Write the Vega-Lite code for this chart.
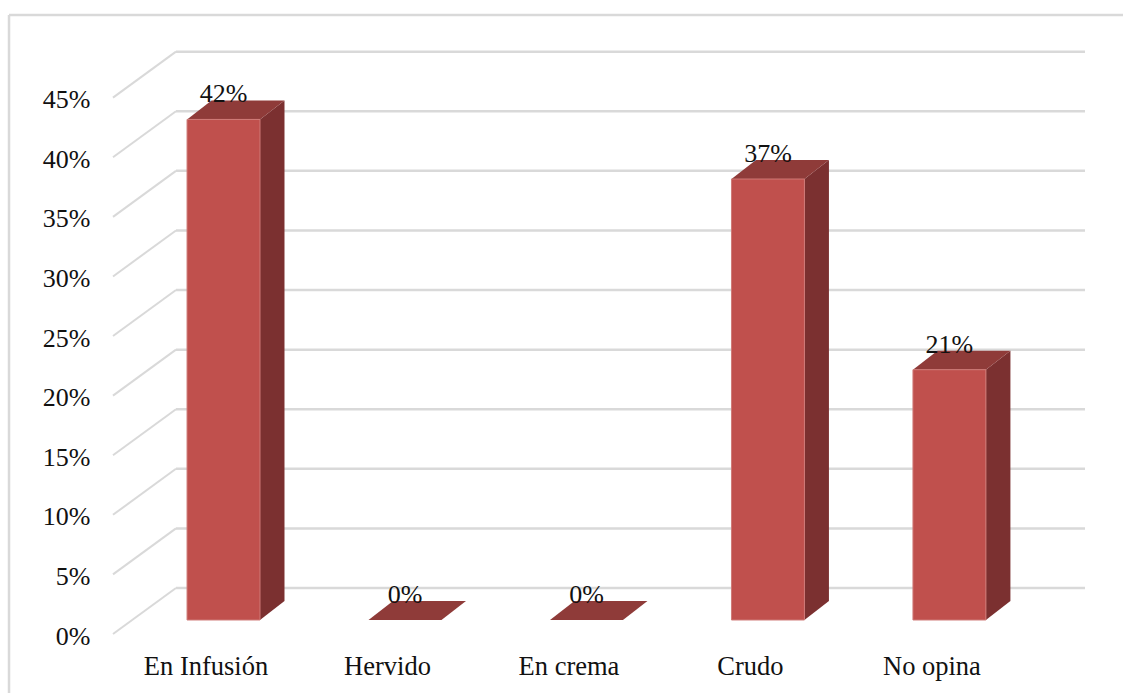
{
"$schema":"https://vega.github.io/schema/vega-lite/v6.json",
"width":972,"height":584,
"autosize":{"type":"none"},
"padding":{"left":113,"top":50,"right":38,"bottom":59},
"background":"white",
"config":{"view":{"stroke":null},"font":"Liberation Serif"},
"datasets":{
"niveles":[{"nivel":0},{"nivel":5},{"nivel":10},{"nivel":15},{"nivel":20},{"nivel":25},{"nivel":30},{"nivel":35},{"nivel":40},{"nivel":45}],
"usos":[{"uso":"En Infusión","porcentaje":42},{"uso":"Hervido","porcentaje":0},{"uso":"En crema","porcentaje":0},{"uso":"Crudo","porcentaje":37},{"uso":"No opina","porcentaje":21}]
},
"data":{"name":"usos"},
"transform":[
{"window":[{"op":"row_number","as":"n"}]},
{"calculate":"datum.n-1","as":"i"},
{"calculate":"datum.i-0.201","as":"xl"},
{"calculate":"datum.i+0.201","as":"xr"},
{"calculate":"datum.porcentaje+1.175","as":"arriba"},
{"calculate":"1.175","as":"base"},
{"calculate":"datum.porcentaje+'%'","as":"etiqueta"}
],
"layer":[
{"data":{"values":[{"marco":"superior"}]},
"mark":{"type":"rule","color":"#d9d9d9","strokeWidth":2.5},
"encoding":{
"x":{"datum":-1.182,"type":"quantitative","scale":{"domain":[-0.609,4.747],"nice":false,"zero":false},
"axis":{"title":null,"values":[0,1,2,3,4],"labelExpr":"['En Infusión','Hervido','En crema','Crudo','No opina'][datum.value]","domain":false,"ticks":false,"grid":false,"labelFont":"Liberation Serif","labelFontSize":26.5,"labelColor":"#111111","labelPadding":19,"labelOffset":-18,"labelOverlap":false,"labelFlush":false}},
"x2":{"datum":4.96},
"y":{"datum":51.94,"type":"quantitative","scale":{"domain":[0,49],"nice":false,"zero":false},
"axis":{"title":null,"values":[0,5,10,15,20,25,30,35,40,45],"labelExpr":"datum.value+'%'","domain":false,"ticks":false,"grid":false,"labelFont":"Liberation Serif","labelFontSize":26,"labelColor":"#111111","labelPadding":23,"labelOffset":2,"labelOverlap":false,"labelFlush":false}}}},
{"data":{"values":[{"marco":"izquierdo"}]},
"mark":{"type":"rule","color":"#d9d9d9","strokeWidth":2.5},
"encoding":{
"x":{"datum":-1.182,"type":"quantitative"},
"y":{"datum":51.94,"type":"quantitative"},
"y2":{"datum":-4.95}}},
{"data":{"name":"niveles"},
"transform":[{"calculate":"datum.nivel+3.86","as":"fondo"},{"calculate":"-0.609","as":"x0"},{"calculate":"-0.262","as":"x1"}],
"mark":{"type":"rule","color":"#d9d9d9","strokeWidth":2},
"encoding":{
"x":{"field":"x0","type":"quantitative"},
"x2":{"field":"x1"},
"y":{"field":"nivel","type":"quantitative"},
"y2":{"field":"fondo"}}},
{"data":{"name":"niveles"},
"transform":[{"calculate":"datum.nivel+3.86","as":"fondo"},{"calculate":"-0.262","as":"x1"},{"calculate":"4.747","as":"x2"}],
"mark":{"type":"rule","color":"#d9d9d9","strokeWidth":2.5},
"encoding":{
"x":{"field":"x1","type":"quantitative"},
"x2":{"field":"x2"},
"y":{"field":"fondo","type":"quantitative"}}},
{"transform":[{"calculate":"[0,1]","as":"t"},{"flatten":["t"]},
{"calculate":"datum.xr+0.135*datum.t","as":"sx"},
{"calculate":"datum.arriba+1.594*datum.t","as":"sy"},
{"calculate":"datum.base+1.594*datum.t","as":"sy2"}],
"mark":{"type":"area","orient":"vertical","color":"#7b3030"},
"encoding":{
"x":{"field":"sx","type":"quantitative"},
"y":{"field":"sy","type":"quantitative"},
"y2":{"field":"sy2"},
"detail":{"field":"uso"}}},
{"transform":[{"calculate":"[0,1]","as":"t"},{"flatten":["t"]},
{"calculate":"datum.xl+0.135*datum.t","as":"tx"},
{"calculate":"datum.xr+0.135*datum.t","as":"tx2"},
{"calculate":"datum.arriba+1.594*datum.t","as":"ty"}],
"mark":{"type":"area","orient":"horizontal","color":"#8f3b39"},
"encoding":{
"y":{"field":"ty","type":"quantitative"},
"x":{"field":"tx","type":"quantitative"},
"x2":{"field":"tx2"},
"detail":{"field":"uso"}}},
{"transform":[{"filter":"datum.porcentaje>0"}],
"mark":{"type":"rect","color":"#c0504d","stroke":"#cf7a77","strokeWidth":1},
"encoding":{
"x":{"field":"xl","type":"quantitative"},
"x2":{"field":"xr"},
"y":{"field":"arriba","type":"quantitative"},
"y2":{"field":"base"}}},
{"mark":{"type":"text","font":"Liberation Serif","fontSize":26,"color":"#111111","baseline":"middle","align":"center","dy":-25},
"encoding":{
"x":{"field":"i","type":"quantitative"},
"y":{"field":"arriba","type":"quantitative"},
"text":{"field":"etiqueta","type":"nominal"}}}
]
}
